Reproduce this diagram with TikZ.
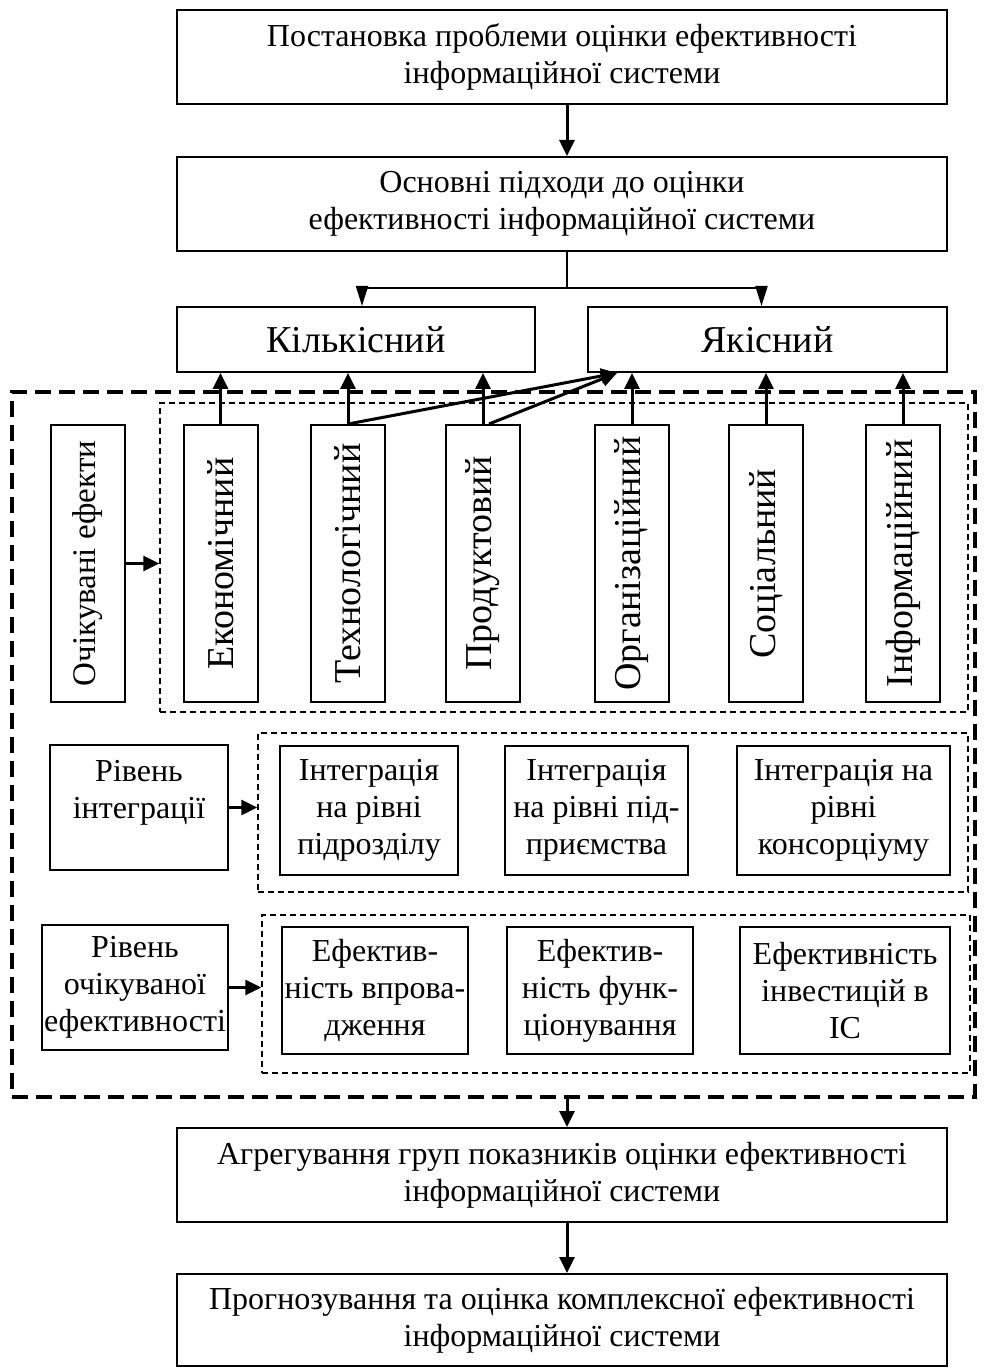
\documentclass[tikz,border=0pt]{standalone}
\usepackage{fontspec}
\setmainfont{Liberation Serif}
\usetikzlibrary{arrows.meta}
\tikzset{
  blk/.style={draw, line width=1pt, align=center, inner sep=1pt, font=\fontsize{16}{18.5}\selectfont},
  big/.style={blk, font=\fontsize{19}{22}\selectfont},
  vbox/.style={draw, line width=1pt, inner sep=1pt, minimum width=37pt, minimum height=138.5pt, font=\fontsize{19}{22}\selectfont},
  grp/.style={draw, line width=0.75pt, dash pattern=on 3pt off 2pt},
  arr/.style={line width=1.5pt, -{Triangle[length=8pt,width=7.5pt]}},
  thinarr/.style={line width=1pt, -{Triangle[length=10pt,width=6pt]}}
}
\begin{document}
\begin{tikzpicture}[x=0.5pt,y=-0.5pt]
\useasboundingbox (0,0) rectangle (987,1368);
\node[blk, minimum width=385pt, minimum height=47pt] (prob) at (562,57) {Постановка проблеми оцінки ефективності\\інформаційної системи};
\node[blk, minimum width=385pt, minimum height=47pt] (appr) at (562,204) {Основні підходи до оцінки\\ефективності інформаційної системи};
\node[big, minimum width=179pt, minimum height=32.5pt] (quant) at (356,339.5) {Кількісний};
\node[big, minimum width=179.5pt, minimum height=32.5pt] (qual) at (767.5,339.5) {Якісний};
\node[draw, line width=2pt, dash pattern=on 8pt off 4pt, minimum width=481.5pt, minimum height=352.5pt] (frame) at (493.5,744.5) {};
\node[grp, minimum width=404pt, minimum height=154.5pt] (effgrp) at (564,557.5) {};
\node[vbox, font=\fontsize{16.5}{19}\selectfont] (exp) at (87.5,563.5) {\rotatebox{90}{Очікувані ефекти}};
\node[vbox] (eco) at (220.5,563.5) {\rotatebox{90}{Економічний}};
\node[vbox] (tech) at (348,563.5) {\rotatebox{90}{Технологічний}};
\node[vbox] (prod) at (483,563.5) {\rotatebox{90}{Продуктовий}};
\node[vbox] (org) at (632,563.5) {\rotatebox{90}{Організаційний}};
\node[vbox] (soc) at (766,563.5) {\rotatebox{90}{Соціальний}};
\node[vbox] (inf) at (903,563.5) {\rotatebox{90}{Інформаційний}};
\node[grp, minimum width=355pt, minimum height=79.5pt] (intgrp) at (613,812.5) {};
\node[blk, minimum width=89pt, minimum height=62.5pt] (intlvl) at (139,807.5) {Рівень\\інтеграції\\\mbox{}};
\node[blk, minimum width=89pt, minimum height=64.5pt] (int1) at (369,810.5) {Інтеграція\\на рівні\\підрозділу};
\node[blk, minimum width=91.5pt, minimum height=64.5pt] (int2) at (596.5,810.5) {Інтеграція\\на рівні під-\\приємства};
\node[blk, minimum width=106.5pt, minimum height=64.5pt] (int3) at (843.5,810.5) {Інтеграція на\\рівні\\консорціуму};
\node[grp, minimum width=354pt, minimum height=79pt] (effrow) at (616,994) {};
\node[blk, minimum width=93pt, minimum height=62.5pt] (efflvl) at (135,987.5) {Рівень\\очікуваної\\ефективності};
\node[blk, minimum width=93pt, minimum height=63.5pt] (ef1) at (375,990.5) {Ефектив-\\ність впрова-\\дження};
\node[blk, minimum width=93pt, minimum height=63.5pt] (ef2) at (600,990.5) {Ефектив-\\ність функ-\\ціонування};
\node[blk, minimum width=105pt, minimum height=63.5pt] (ef3) at (845,990.5) {Ефективність\\інвестицій в\\ІС};
\node[blk, minimum width=385pt, minimum height=47pt] (aggr) at (562,1175) {Агрегування груп показників оцінки ефективності\\інформаційної системи};
\node[blk, minimum width=385pt, minimum height=46pt] (prog) at (562,1320) {Прогнозування та оцінка комплексної ефективності\\інформаційної системи};
\coordinate (sp) at (567,288);
\draw[arr] (prob.south -| sp) -- (appr.north -| sp);
\draw[line width=1pt] (appr.south -| sp) -- (sp);
\draw[thinarr] (sp) -| ([xshift=3pt]quant.north);
\draw[thinarr] (sp) -| ([xshift=-3pt]qual.north);
\foreach \n in {eco,tech,prod} \draw[arr] (\n.north) -- (\n.north |- quant.south);
\foreach \n in {org,soc,inf} \draw[arr] (\n.north) -- (\n.north |- qual.south);
\draw[arr] (tech.north) -- ([xshift=15pt]qual.south west);
\draw[arr] ([xshift=3pt]prod.north) -- ([xshift=15pt]qual.south west);
\draw[arr] (exp.east) -- (exp.east -| effgrp.west);
\draw[arr] (intlvl.east) -- (intlvl.east -| intgrp.west);
\draw[arr] (efflvl.east) -- (efflvl.east -| effrow.west);
\draw[arr] (frame.south -| sp) -- (aggr.north -| sp);
\draw[arr] (aggr.south -| sp) -- (prog.north -| sp);
\end{tikzpicture}
\end{document}
